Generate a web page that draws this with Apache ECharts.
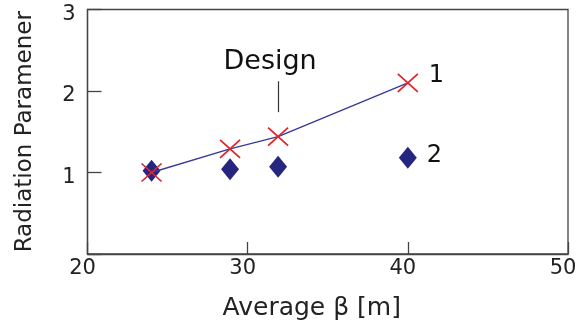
<!DOCTYPE html>
<html><head><meta charset="utf-8">
<script src="https://cdn.jsdelivr.net/npm/echarts@6/dist/echarts.min.js"></script>
<style>html,body{margin:0;padding:0;background:#fff}#c{width:582px;height:325px}</style>
</head><body><div id="c"></div>
<script>
var betaValues = [24.0, 28.9, 31.9, 40.0];
var series1Values = [1.00, 1.29, 1.44, 2.10];
var series2Values = [1.02, 1.04, 1.07, 1.18];
var seriesNames = ['1', '2'];
var xTicks = [20, 30, 40, 50];
var yTicks = [1, 2, 3];
var designBeta = 31.9;
var designRange = [1.74, 2.12];
var designLabel = 'Design';

function pairs(xs, ys, lastLabel) {
  return xs.map(function (x, i) {
    var d = { value: [x, ys[i]] };
    if (i === xs.length - 1) d.label = { show: true, formatter: lastLabel };
    return d;
  });
}
var font = 'DejaVu Sans, sans-serif';
var chart = echarts.init(document.getElementById('c'), null, { renderer: 'canvas' });
chart.setOption({
  animation: false,
  backgroundColor: '#fff',
  grid: { left: 87.5, right: 14, top: 9.5, bottom: 71, show: true, borderColor: '#444', borderWidth: 1.3,
          containLabel: false, outerBoundsMode: 'none' },
  xAxis: {
    type: 'value', min: xTicks[0], max: xTicks[xTicks.length - 1], interval: 10,
    name: 'Average β [m]', nameLocation: 'middle', nameGap: 42,
    nameTextStyle: { fontFamily: font, fontSize: 25, color: '#222', padding: [0, 32, 0, 0] },
    axisLine: { show: true, lineStyle: { color: '#444', width: 1.3 } },
    axisTick: { show: true, inside: true, length: 12, lineStyle: { color: '#444', width: 1.3 } },
    axisLabel: { fontFamily: font, fontSize: 21, color: '#222', margin: 4,
      formatter: function (v) { return '{a|' + v + '}'; },
      rich: { a: { fontFamily: font, fontSize: 21, color: '#222', padding: [0, 10, 0, 0] } } },
    splitLine: { show: false }
  },
  yAxis: {
    type: 'value', min: 0, max: yTicks[yTicks.length - 1], interval: 1,
    name: 'Radiation Paramener', nameLocation: 'middle', nameGap: 51,
    nameTextStyle: { fontFamily: font, fontSize: 23, color: '#222' },
    axisLine: { show: true, lineStyle: { color: '#444', width: 1.3 } },
    axisTick: { show: true, inside: true, length: 14, lineStyle: { color: '#444', width: 1.3 } },
    axisLabel: { fontFamily: font, fontSize: 21, color: '#222', margin: 12,
      formatter: function (v) { return yTicks.indexOf(v) >= 0 ? '{a|' + v + '}' : ''; },
      rich: { a: { fontFamily: font, fontSize: 21, color: '#222', padding: [10, 0, 0, 0] } } },
    splitLine: { show: false }
  },
  series: [
    {
      type: 'scatter', name: seriesNames[1],
      symbol: 'diamond', symbolSize: [18, 22],
      itemStyle: { color: '#262680', opacity: 1 },
      label: { position: 'right', distance: 10, offset: [0, -2], fontFamily: font, fontSize: 24, color: '#111' },
      data: pairs(betaValues, series2Values, seriesNames[1]),
      z: 2
    },
    {
      type: 'line', name: seriesNames[0],
      symbol: 'path://M0,0L10,10M10,0L0,10', symbolSize: [20, 18], showSymbol: true,
      itemStyle: { color: 'rgba(0,0,0,0)', borderColor: '#e2242a', borderWidth: 1.6 },
      lineStyle: { color: '#3a3a9c', width: 1.5 },
      label: { position: 'right', distance: 10, offset: [0, -7], fontFamily: font, fontSize: 24, color: '#111' },
      data: pairs(betaValues, series1Values, seriesNames[0]),
      markLine: {
        silent: true, symbol: 'none',
        lineStyle: { color: '#333', width: 1.2, type: 'solid' },
        label: { show: true, position: 'end', formatter: designLabel, fontFamily: font, fontSize: 27, color: '#111', distance: 6, offset: [-8, 0] },
        data: [[{ coord: [designBeta, designRange[0]] }, { coord: [designBeta, designRange[1]] }]]
      },
      z: 3
    }
  ]
});
</script></body></html>
